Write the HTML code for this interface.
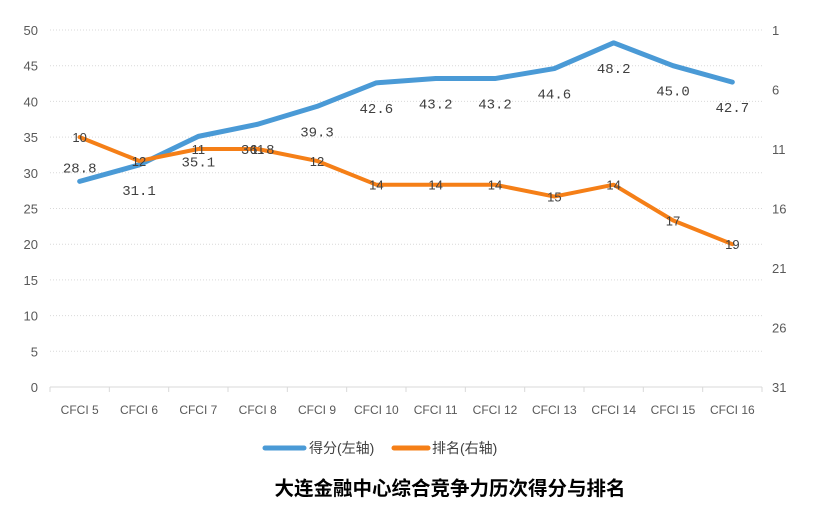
<!DOCTYPE html>
<html><head><meta charset="utf-8"><style>
body{margin:0;background:#fff;width:813px;height:507px;overflow:hidden}
svg text{font-family:"Liberation Sans","Noto Sans CJK SC",sans-serif}
svg text.mono{font-family:"Liberation Mono",monospace}
</style></head><body>
<svg id="c" width="813" height="507"></svg>
<script>
const categories=["CFCI 5","CFCI 6","CFCI 7","CFCI 8","CFCI 9","CFCI 10","CFCI 11","CFCI 12","CFCI 13","CFCI 14","CFCI 15","CFCI 16"];
const scores=[28.8,31.1,35.1,36.8,39.3,42.6,43.2,43.2,44.6,48.2,45.0,42.7];
const ranks=[10,12,11,11,12,14,14,14,15,14,17,19];
const leftTicks=[0,5,10,15,20,25,30,35,40,45,50];
const rightTicks=[1,6,11,16,21,26,31];
const svg=document.getElementById('c');const NS='http://www.w3.org/2000/svg';
function el(t,a,p){const e=document.createElementNS(NS,t);for(const k in a)e.setAttribute(k,a[k]);(p||svg).appendChild(e);return e;}
const X0=50,X1=762,Y0=387,Y1=30;
const bw=(X1-X0)/categories.length;
const xs=i=>X0+bw*(i+0.5);
const yl=v=>Y0-(v/50)*(Y0-Y1);
const yr=r=>Y1+(r-1)/30*(Y0-Y1);
leftTicks.forEach(v=>{
 if(v>0){const g=el('line',{x1:X0,x2:X1,y1:yl(v),y2:yl(v),stroke:'#d9d9d9','stroke-dasharray':'1,2'});}
 const t=el('text',{x:38,y:yl(v)+5,'text-anchor':'end','font-size':13,fill:'#595959'});t.textContent=v;
 
});
rightTicks.forEach(r=>{const t=el('text',{x:772,y:yr(r)+5,'font-size':13,fill:'#595959'});t.textContent=r;
 });
const ax=el('line',{x1:X0,x2:X1,y1:Y0,y2:Y0,stroke:'#d9d9d9'});
for(let i=0;i<=categories.length;i++){const tk=el('line',{x1:X0+bw*i,x2:X0+bw*i,y1:Y0,y2:Y0+5,stroke:'#d9d9d9'});}
categories.forEach((c,i)=>{const t=el('text',{x:xs(i),y:414,'text-anchor':'middle','font-size':12,fill:'#595959'});t.textContent=c;
 });
const sp=el('polyline',{points:scores.map((v,i)=>xs(i)+','+yl(v)).join(' '),fill:'none',stroke:'#4a9ad6','stroke-width':5,'stroke-linejoin':'round','stroke-linecap':'round'});

const rp=el('polyline',{points:ranks.map((v,i)=>xs(i)+','+yr(v)).join(' '),fill:'none',stroke:'#f57f17','stroke-width':4,'stroke-linejoin':'round','stroke-linecap':'round'});

scores.forEach((v,i)=>{const t=el('text',{x:xs(i),y:i==0?yl(v)-9:yl(v)+30,'text-anchor':'middle','font-size':14,fill:'#404040','class':'mono'});t.textContent=v.toFixed(1);
 });
ranks.forEach((v,i)=>{const t=el('text',{x:xs(i),y:yr(v)+5,'text-anchor':'middle','font-size':13,fill:'#404040'});t.textContent=v;
 });
const l1=el('line',{x1:265,x2:304,y1:448,y2:448,stroke:'#4a9ad6','stroke-width':5,'stroke-linecap':'round'});
const t1=el('text',{x:309,y:453,'font-size':14,fill:'#404040'});t1.textContent='得分(左轴)';
const l2=el('line',{x1:394,x2:428,y1:448,y2:448,stroke:'#f57f17','stroke-width':5,'stroke-linecap':'round'});
const t2=el('text',{x:432,y:453,'font-size':14,fill:'#404040'});t2.textContent='排名(右轴)';
const tt=el('text',{x:450,y:495,'text-anchor':'middle','font-size':19.5,'font-weight':'bold',fill:'#000'});tt.textContent='大连金融中心综合竞争力历次得分与排名';

</script>
</body></html>
